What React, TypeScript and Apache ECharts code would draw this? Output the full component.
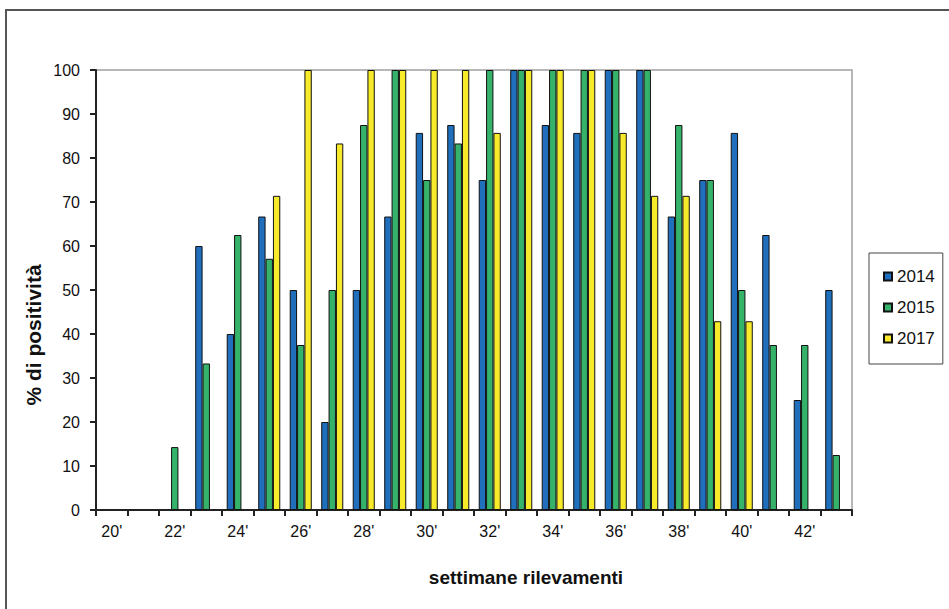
import React, { useEffect, useRef } from "react";
import * as echarts from "echarts";

const weeks = ["20'", "21'", "22'", "23'", "24'", "25'", "26'", "27'", "28'", "29'", "30'", "31'", "32'", "33'", "34'", "35'", "36'", "37'", "38'", "39'", "40'", "41'", "42'", "43'"];
const seriesNames = ["2014", "2015", "2017"];
const values2014 = [null, null, null, 60, 40, 66.7, 50, 20, 50, 66.7, 85.7, 87.5, 75, 100, 87.5, 85.7, 100, 100, 66.7, 75, 85.7, 62.5, 25, 50];
const values2015 = [null, null, 14.3, 33.3, 62.5, 57.1, 37.5, 50, 87.5, 100, 75, 83.3, 100, 100, 100, 100, 100, 100, 87.5, 75, 50, 37.5, 37.5, 12.5];
const values2017 = [null, null, null, null, null, 71.4, 100, 83.3, 100, 100, 100, 100, 85.7, 100, 100, 100, 85.7, 71.4, 71.4, 42.9, 42.9, null, null, null];
const colors = ["#1f6fbd", "#35b36b", "#f7ea2a"];
const yTitle = "% di positività";
const xTitle = "settimane rilevamenti";

const FONT = "'Liberation Sans', Arial, sans-serif";
const W = 949;
const H = 609;
const GRID = { left: 96, right: 97, top: 70, bottom: 99 };

export default function App() {
  const ref = useRef<HTMLDivElement>(null);
  useEffect(() => {
    document.body.style.margin = "0";
    const chart = echarts.init(ref.current!, null, { renderer: "svg" });
    const allValues = [values2014, values2015, values2017];
    const dark = "#222222";
    const gx0 = GRID.left;
    const gx1 = W - GRID.right;
    const gy0 = GRID.top;
    const gy1 = H - GRID.bottom;
    chart.setOption({
      animation: false,
      backgroundColor: "#ffffff",
      textStyle: { fontFamily: FONT },
      grid: { ...GRID, show: false },
      legend: {
        orient: "vertical",
        left: 869,
        top: 253,
        padding: [15, 8, 17, 14],
        itemGap: 14,
        itemWidth: 8,
        itemHeight: 8,
        borderColor: "#444",
        borderWidth: 1,
        icon: "rect",
        textStyle: { fontSize: 17, color: "#111", fontFamily: FONT },
        data: seriesNames,
      },
      xAxis: {
        type: "category",
        data: weeks,
        position: "bottom",
        axisLine: { show: true, onZero: false, lineStyle: { color: dark, width: 2 } },
        axisTick: { show: true, interval: 0, length: 6, lineStyle: { color: dark, width: 2 } },
        axisLabel: { interval: 1, fontSize: 16, color: "#111", margin: 13, fontFamily: FONT },
        splitLine: { show: false },
      },
      yAxis: {
        type: "value",
        min: 0,
        max: 100,
        interval: 10,
        position: "left",
        axisLine: { show: true, onZero: false, lineStyle: { color: dark, width: 2 } },
        axisTick: { show: true, length: 6, lineStyle: { color: dark, width: 2 } },
        axisLabel: { fontSize: 16, color: "#111", margin: 16, fontFamily: FONT },
        splitLine: { show: false },
      },
      series: seriesNames.map((name, i) => ({
        name,
        type: "bar",
        data: allValues[i],
        barGap: "0%",
        barCategoryGap: "30%",
        itemStyle: { color: colors[i], borderColor: "#111", borderWidth: 1 },
      })),
      graphic: [
        {
          type: "polyline",
          shape: { points: [[gx0, gy0], [gx1, gy0], [gx1, gy1]] },
          style: { fill: "none", stroke: "#a0a0a0", lineWidth: 1.5 },
          silent: true,
          z: -1,
        },
        {
          type: "rect",
          shape: { x: 6, y: 10, width: 1200, height: 1200 },
          style: { fill: "none", stroke: "#555", lineWidth: 2 },
          silent: true,
          z: 100,
        },
        {
          type: "text",
          x: 33,
          y: 335,
          rotation: Math.PI / 2,
          style: {
            text: yTitle,
            fontSize: 21,
            fontWeight: "bold",
            fill: "#111",
            align: "center",
            verticalAlign: "middle",
            fontFamily: FONT,
          },
        },
        {
          type: "text",
          x: 526,
          y: 577,
          style: {
            text: xTitle,
            fontSize: 19,
            fontWeight: "bold",
            fill: "#111",
            align: "center",
            verticalAlign: "middle",
            fontFamily: FONT,
          },
        },
      ],
    });
    return () => chart.dispose();
  }, []);
  return <div ref={ref} style={{ width: W, height: H }} />;
}
